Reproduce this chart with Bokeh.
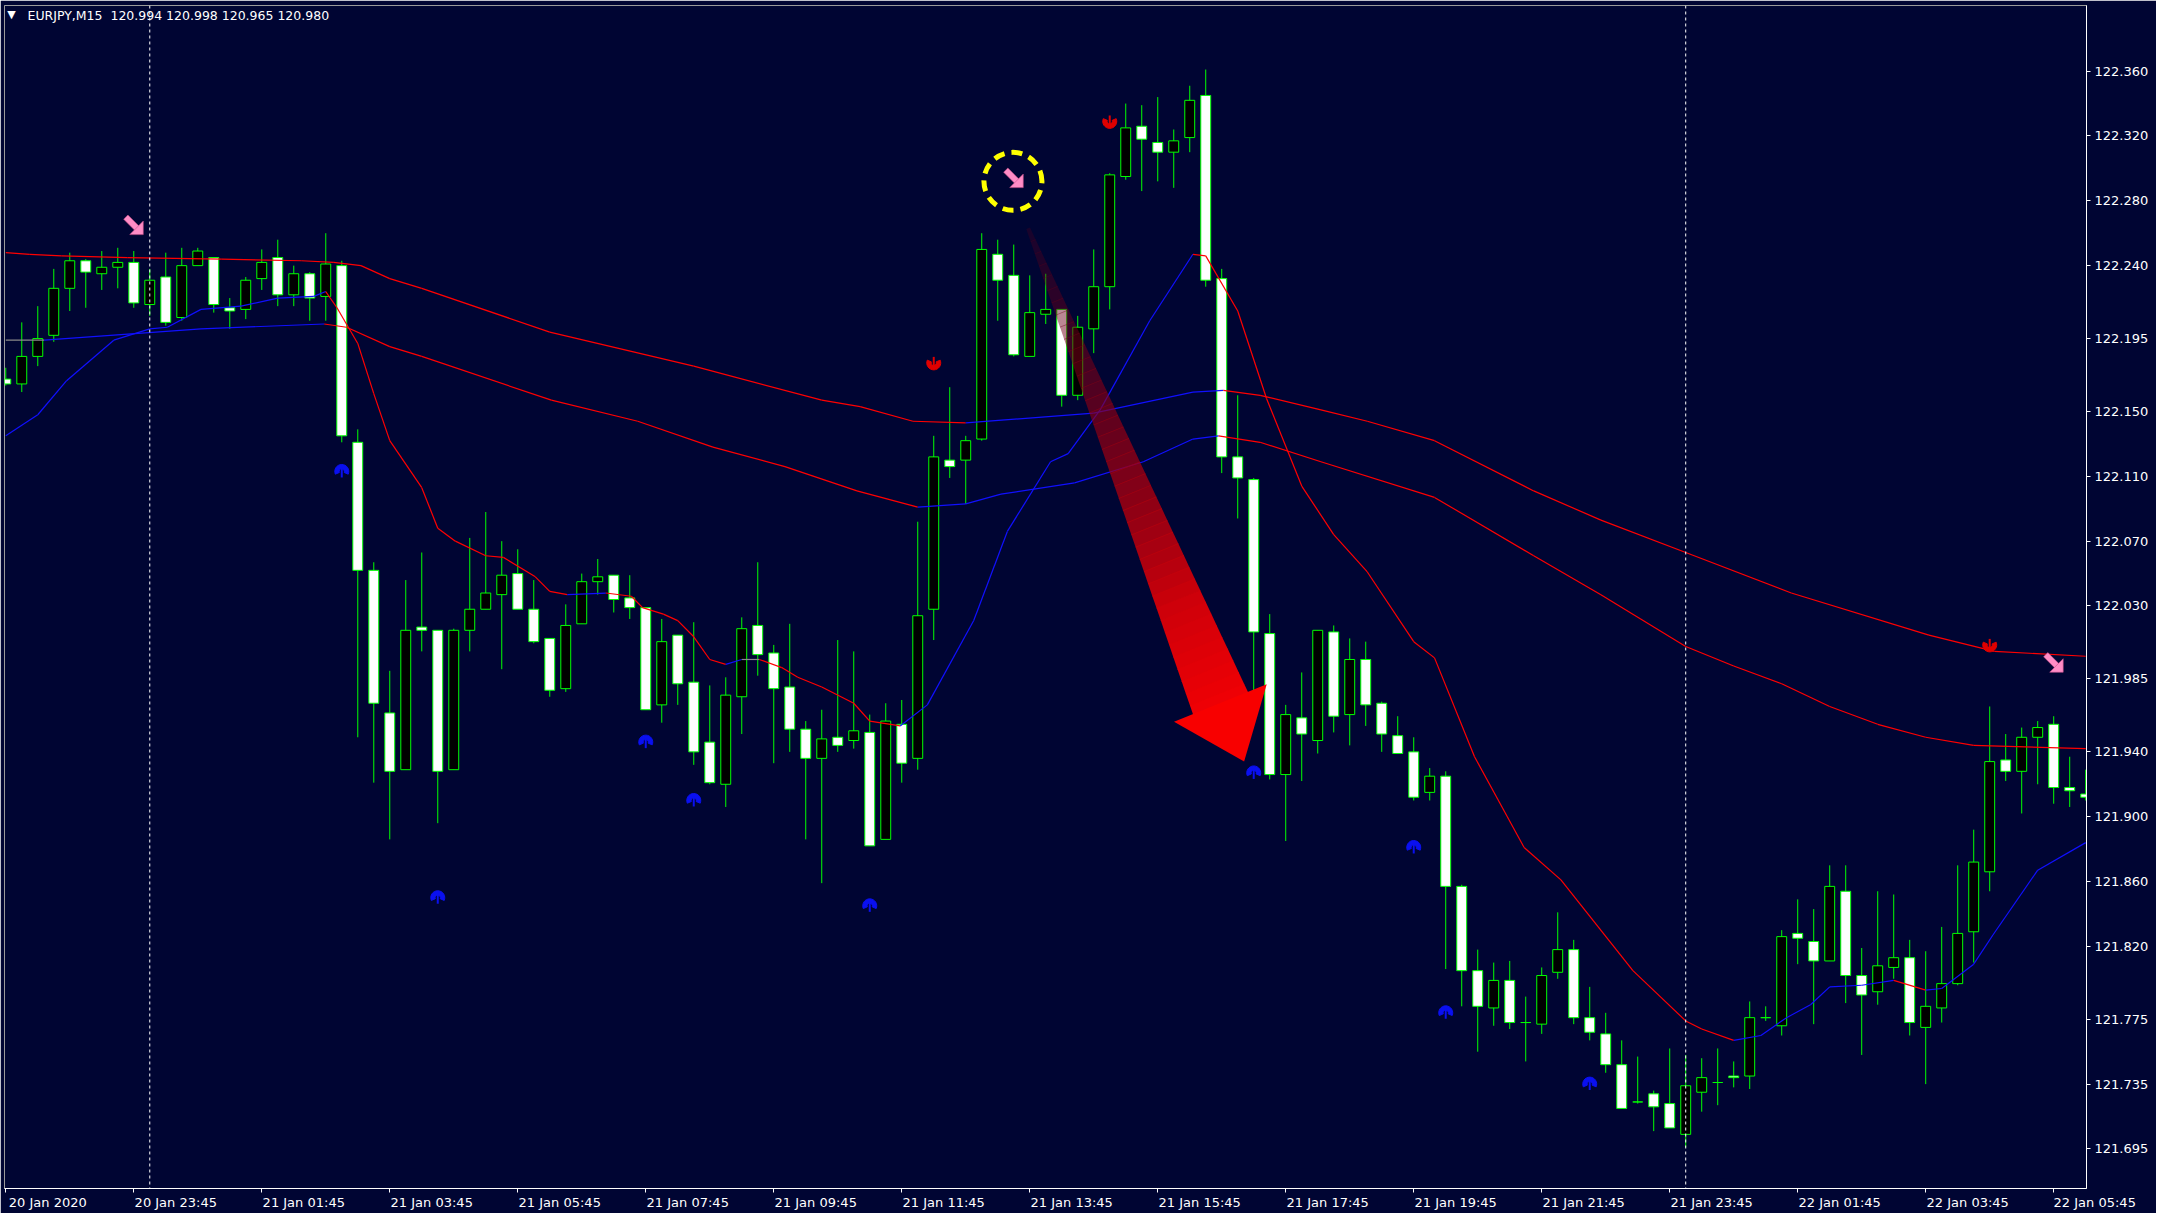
import math
from bokeh.plotting import figure
from bokeh.models import Range1d, LinearAxis, FixedTicker, PrintfTickFormatter, Span, Label, ColumnDataSource
from bokeh.embed import file_html
from bokeh.resources import INLINE
from bokeh.core.properties import value

# ---------------- data (EURJPY M15) ----------------
opens = [122.170,122.167,122.184,122.197,122.226,122.243,122.235,122.239,122.242,122.216,
         122.233,122.208,122.240,122.245,122.214,122.213,122.232,122.245,122.222,122.235,
         122.221,122.240,122.131,122.052,121.964,121.929,122.017,122.015,121.929,122.015,
         122.028,122.037,122.050,122.028,122.010,121.979,122.019,122.045,122.049,122.035,
         122.029,121.969,122.012,121.983,121.946,121.920,121.974,122.018,122.001,121.980,
         121.954,121.936,121.949,121.947,121.952,121.886,121.957,121.936,122.028,122.120,
         122.120,122.133,122.247,122.234,122.184,122.210,122.213,122.160,122.201,122.227,
         122.295,122.326,122.316,122.310,122.319,122.345,122.232,122.122,122.108,122.013,
         121.926,121.961,121.947,122.014,121.963,121.997,121.970,121.950,121.940,121.915,
         121.925,121.857,121.805,121.782,121.799,121.773,121.772,121.804,121.818,121.776,
         121.766,121.747,121.724,121.729,121.723,121.704,121.730,121.736,121.740,121.740,
         121.776,121.771,121.828,121.823,121.811,121.854,121.802,121.792,121.807,121.813,
         121.770,121.782,121.797,121.829,121.866,121.935,121.928,121.949,121.957,121.918,
         121.914]
highs = [122.177,122.205,122.215,122.238,122.248,122.244,122.249,122.251,122.249,122.238,
         122.248,122.251,122.251,122.245,122.220,122.233,122.250,122.256,122.240,122.236,
         122.260,122.243,122.139,122.057,121.990,122.046,122.063,122.015,122.016,122.072,
         122.088,122.070,122.065,122.046,122.010,122.031,122.050,122.059,122.049,122.049,
         122.029,122.022,122.012,122.020,121.981,121.986,122.023,122.057,122.006,122.019,
         121.959,121.966,122.009,122.002,121.963,121.970,121.972,122.082,122.135,122.165,
         122.135,122.260,122.256,122.253,122.234,122.235,122.213,122.209,122.250,122.297,
         122.340,122.339,122.344,122.324,122.351,122.361,122.238,122.160,122.109,122.025,
         121.969,121.989,122.015,122.018,122.010,122.008,121.971,121.962,121.949,121.930,
         121.928,121.858,121.818,121.810,121.811,121.789,121.807,121.841,121.824,121.795,
         121.779,121.762,121.752,121.731,121.757,121.753,121.751,121.757,121.749,121.786,
         121.783,121.830,121.849,121.843,121.870,121.870,121.819,121.854,121.852,121.824,
         121.817,121.832,121.870,121.892,121.968,121.951,121.955,121.959,121.962,121.937,
         121.929]
lows = [122.166,122.162,122.178,122.193,122.212,122.214,122.225,122.226,122.214,122.209,
        122.203,122.206,122.240,122.211,122.201,122.207,122.225,122.215,122.215,122.206,
        122.206,122.131,121.949,121.921,121.886,121.929,122.002,121.896,121.929,122.002,
        122.028,121.991,122.028,122.007,121.974,121.977,122.019,122.037,122.026,122.022,
        121.966,121.958,121.969,121.932,121.920,121.906,121.951,121.987,121.933,121.940,
        121.886,121.859,121.940,121.942,121.882,121.886,121.921,121.929,122.009,122.109,
        122.093,122.132,122.206,122.184,122.184,122.204,122.153,122.157,122.186,122.213,
        122.293,122.286,122.292,122.288,122.310,122.227,122.112,122.084,121.966,121.923,
        121.885,121.922,121.939,121.952,121.944,121.956,121.940,121.939,121.910,121.910,
        121.806,121.783,121.755,121.771,121.769,121.749,121.766,121.800,121.772,121.762,
        121.742,121.720,121.723,121.706,121.708,121.696,121.718,121.722,121.733,121.732,
        121.774,121.765,121.809,121.772,121.811,121.785,121.753,121.784,121.800,121.765,
        121.735,121.773,121.796,121.810,121.854,121.922,121.902,121.920,121.908,121.906,
        121.910]
closes = [122.167,122.184,122.195,122.226,122.243,122.236,122.239,122.242,122.217,122.231,
          122.205,122.240,122.249,122.216,122.212,122.231,122.242,122.222,122.235,122.220,
          122.241,122.135,122.052,121.970,121.928,122.015,122.015,121.928,122.015,122.028,
          122.038,122.049,122.028,122.008,121.978,122.018,122.045,122.048,122.034,122.029,
          121.966,122.008,121.982,121.940,121.921,121.975,122.016,122.000,121.979,121.954,
          121.936,121.948,121.944,121.953,121.882,121.959,121.933,122.024,122.122,122.116,
          122.132,122.250,122.231,122.185,122.211,122.213,122.160,122.202,122.227,122.296,
          122.325,122.318,122.310,122.317,122.342,122.231,122.122,122.109,122.014,121.926,
          121.963,121.951,122.015,121.962,121.997,121.969,121.951,121.939,121.912,121.925,
          121.857,121.805,121.783,121.799,121.773,121.773,121.802,121.818,121.776,121.767,
          121.747,121.720,121.724,121.721,121.708,121.734,121.739,121.736,121.739,121.776,
          121.776,121.826,121.825,121.811,121.857,121.802,121.790,121.808,121.813,121.773,
          121.783,121.797,121.828,121.872,121.934,121.928,121.949,121.955,121.918,121.916,
          121.912]

# slow moving average (upper)
ma_a_idx = [0, 1.5, 3.5, 7.6, 13.5, 18.5, 20.5, 22.2, 24, 26, 34, 43, 51, 53.4, 56.7, 60, 68,
            74.2, 76.1, 78.4, 82.2, 85.1, 89.3, 95.5, 99.7, 105, 111.6, 120.2, 124.3, 130]
ma_a_val = [122.248, 122.247, 122.246, 122.245, 122.244, 122.243, 122.242, 122.240, 122.232,
            122.226, 122.199, 122.178, 122.157, 122.153, 122.144, 122.143, 122.149, 122.162,
            122.163, 122.160, 122.151, 122.144, 122.132, 122.101, 122.083, 122.063, 122.038,
            122.012, 122.002, 121.999]
# slow moving average (lower)
ma_b_idx = [0, 2.4, 12.2, 19.9, 21.3, 24, 26, 34.1, 39.5, 44.2, 48.7, 53.2, 57, 60, 62.2, 66.8,
            71.1, 74.2, 75.8, 78.4, 82.2, 89.3, 95.5, 99.7, 105, 108, 111, 114, 117, 120, 123, 130]
ma_b_val = [122.194, 122.194, 122.201, 122.204, 122.202, 122.190, 122.184, 122.157, 122.144,
            122.128, 122.116, 122.101, 122.091, 122.093, 122.099, 122.106, 122.119, 122.133,
            122.135, 122.131, 122.119, 122.097, 122.061, 122.037, 122.005, 121.993, 121.982,
            121.968, 121.957, 121.949, 121.944, 121.942]
# fast moving average
ma_c_idx = [0, 2, 3.8, 6.75, 9, 10.1, 12.2, 14.7, 17, 19.25, 20, 20.7, 22, 23, 24, 26, 27, 28.1,
            30, 31.1, 33.1, 34, 35.1, 37.5, 39.1, 39.8, 41.1, 42, 43, 44, 45, 46, 47.1, 48.5,
            49.5, 51, 53, 54, 55.9, 57.6, 60.5, 62.6, 65.3, 66.4, 68.4, 71.5, 74.2, 75, 77,
            78.8, 81, 83, 85.1, 88, 89.3, 91.8, 94.9, 97.2, 101.7, 105, 106, 108, 109.7, 111.3,
            112.8, 114, 116, 118, 120, 121, 123, 124.2, 127, 130]
ma_c_val = [122.135, 122.148, 122.169, 122.194, 122.201, 122.202, 122.213, 122.215, 122.220,
            122.221, 122.224, 122.214, 122.192, 122.161, 122.132, 122.103, 122.078, 122.070,
            122.061, 122.060, 122.048, 122.039, 122.037, 122.038, 122.036, 122.029, 122.025,
            122.021, 122.011, 121.997, 121.994, 121.997, 121.997, 121.992, 121.986, 121.980,
            121.970, 121.959, 121.956, 121.969, 122.021, 122.076, 122.119, 122.124, 122.151,
            122.206, 122.247, 122.246, 122.212, 122.158, 122.104, 122.074, 122.051, 122.008,
            121.998, 121.937, 121.881, 121.861, 121.805, 121.774, 121.769, 121.762, 121.765,
            121.776, 121.784, 121.795, 121.796, 121.799, 121.793, 121.794, 121.809, 121.827,
            121.867, 121.884]

up_mark_idx = [21, 27, 40, 43, 54, 78, 88, 90, 99]
up_mark_val = [122.113, 121.850, 121.946, 121.910, 121.845, 121.927, 121.881, 121.779, 121.735]
dn_mark_idx = [58, 69, 124]
dn_mark_val = [122.180, 122.329, 122.006]

sell_sig_idx = [8, 63, 128]
sell_sig_val = [122.265, 122.294, 121.995]
circled_sig = (62.95, 122.292)
big_arrow_from = (63.9, 122.263)
big_arrow_to = (77.4, 121.934)

separators = [9, 105]
time_tick_idx = [0, 8, 16, 24, 32, 40, 48, 56, 64, 72, 80, 88, 96, 104, 112, 120, 128]
time_tick_labels = ["20 Jan 2020", "20 Jan 23:45", "21 Jan 01:45", "21 Jan 03:45", "21 Jan 05:45",
                    "21 Jan 07:45", "21 Jan 09:45", "21 Jan 11:45", "21 Jan 13:45", "21 Jan 15:45",
                    "21 Jan 17:45", "21 Jan 19:45", "21 Jan 21:45", "21 Jan 23:45", "22 Jan 01:45",
                    "22 Jan 03:45", "22 Jan 05:45"]
price_ticks = [122.360, 122.320, 122.280, 122.240, 122.195, 122.150, 122.110, 122.070, 122.030,
               121.985, 121.940, 121.900, 121.860, 121.820, 121.775, 121.735, 121.695]
header_symbol = "EURJPY,M15"
header_ohlc = "120.994 120.998 120.965 120.980"

# ---------------- figure ----------------
BG = "#000533"
FG = "#FFFFFF"
CANDLE = "#00FF00"
W, H = 2156, 1213
MB_L, MB_T, MB_R, MB_B = 4, 5, 70, 25
FRAME_W, FRAME_H = W - MB_L - MB_R, H - MB_T - MB_B
X0, X1 = -0.08, 130.05
Y0, Y1 = 121.6706, 122.4005
ppk = FRAME_W / (X1 - X0)
ppp = FRAME_H / (Y1 - Y0)

p = figure(width=W, height=H, x_range=Range1d(X0, X1), y_range=Range1d(Y0, Y1),
           output_backend="svg", toolbar_location=None,
           x_axis_location=None, y_axis_location=None,
           min_border_left=MB_L, min_border_top=MB_T, min_border_right=MB_R, min_border_bottom=MB_B,
           background_fill_color=BG, border_fill_color=BG, outline_line_color="#9A9A9A")
p.grid.visible = False

FONT = "DejaVu Sans"
FONT_PX = 13
LABEL_OFFSET = 2.625   # time labels start at their tick and run to the right
NBSP_PX = 0.318 * FONT_PX   # width of a no-break space in DejaVu Sans

# axis label positions; a label whose centre would lie past the right edge is pinned
# to the edge and padded on the left so its text still starts at its tick
x_major, x_over = [], {}
for t, lab in zip(time_tick_idx, time_tick_labels):
    c = t + LABEL_OFFSET
    if c > X1 - 0.001:
        shift_px = (c - (X1 - 0.001)) * ppk
        pad = int(round(2 * shift_px / NBSP_PX))
        c = X1 - 0.001
        lab = "\u00a0" * pad + lab
    x_major.append(c)
    x_over[c] = lab

xaxis = LinearAxis(ticker=FixedTicker(ticks=x_major, minor_ticks=time_tick_idx),
                   major_label_overrides=x_over)
xaxis.axis_line_color = FG
xaxis.major_tick_line_color = None
xaxis.major_tick_out = 4
xaxis.major_tick_in = 0
xaxis.minor_tick_line_color = FG
xaxis.minor_tick_out = 4
xaxis.minor_tick_in = 0
xaxis.major_label_standoff = 2
xaxis.major_label_text_color = FG
xaxis.major_label_text_font = FONT
xaxis.major_label_text_font_size = "%dpx" % FONT_PX
p.add_layout(xaxis, "below")

yaxis = LinearAxis(ticker=FixedTicker(ticks=price_ticks, minor_ticks=[]),
                   formatter=PrintfTickFormatter(format="%.3f"))
yaxis.axis_line_color = FG
yaxis.major_tick_line_color = FG
yaxis.major_tick_out = 4
yaxis.major_tick_in = 0
yaxis.minor_tick_line_color = None
yaxis.major_label_standoff = 4
yaxis.major_label_text_color = FG
yaxis.major_label_text_font = FONT
yaxis.major_label_text_font_size = "%dpx" % FONT_PX
p.add_layout(yaxis, "right")

# candles
idx = list(range(len(opens)))
src = ColumnDataSource(dict(
    x=idx, o=opens, h=highs, l=lows, c=closes,
    top=[max(a, b) for a, b in zip(opens, closes)],
    bot=[min(a, b) for a, b in zip(opens, closes)],
    fill=["#000000" if c > o else "#FFFFFF" for o, c in zip(opens, closes)]))
p.segment(x0="x", y0="l", x1="x", y1="h", source=src, line_color=CANDLE, line_width=1)
p.vbar(x="x", top="top", bottom="bot", width=0.62, source=src,
       fill_color="fill", line_color=CANDLE, line_width=1)

# moving averages coloured by direction
def ma_segments(ix, vals):
    x0s, x1s, y0s, y1s, cols = [], [], [], [], []
    for i in range(len(ix) - 1):
        x0s.append(ix[i]); x1s.append(ix[i + 1]); y0s.append(vals[i]); y1s.append(vals[i + 1])
        d = vals[i + 1] - vals[i]
        cols.append("#1010FF" if d > 0.0004 else ("#FF0000" if d < -0.0004 else "#8A8A8A"))
    return ColumnDataSource(dict(x0=x0s, x1=x1s, y0=y0s, y1=y1s, c=cols))

for ix, vals in ((ma_a_idx, ma_a_val), (ma_b_idx, ma_b_val), (ma_c_idx, ma_c_val)):
    p.segment(x0="x0", y0="y0", x1="x1", y1="y1", line_color="c", line_width=1.2,
              source=ma_segments(ix, vals))

# fractal-like markers
p.annular_wedge(x=up_mark_idx, y=up_mark_val, inner_radius=2.6, outer_radius=7,
                inner_radius_units="screen", outer_radius_units="screen",
                start_angle=-0.4, end_angle=math.pi + 0.4, color="#0A10F0")
p.segment(x0=up_mark_idx, x1=up_mark_idx, y0=[v - 6 / ppp for v in up_mark_val],
          y1=[v + 4 / ppp for v in up_mark_val], line_color="#0A10F0", line_width=2)
p.annular_wedge(x=dn_mark_idx, y=dn_mark_val, inner_radius=2.6, outer_radius=7,
                inner_radius_units="screen", outer_radius_units="screen",
                start_angle=math.pi - 0.4, end_angle=2 * math.pi + 0.4, color="#E00000")
p.segment(x0=dn_mark_idx, x1=dn_mark_idx, y0=[v - 4 / ppp for v in dn_mark_val],
          y1=[v + 6 / ppp for v in dn_mark_val], line_color="#E00000", line_width=2)

# day separators
for s in separators:
    p.add_layout(Span(location=s, dimension="height", line_color=FG, line_width=1, line_dash="3 3"))

# helper: pixel offset (screen, y down) -> data coordinates
def off(k, v, dx, dy):
    return k + dx / ppk, v - dy / ppp

# big translucent red arrow
tk, tp = big_arrow_from
hk, hp = big_arrow_to
dx = (hk - tk) * ppk
dy = (tp - hp) * ppp
L = math.hypot(dx, dy)
ux, uy = dx / L, dy / L
nx, ny = uy, -ux

def to_data(a, c):
    return off(tk, tp, a * ux + c * nx, a * uy + c * ny)

SHAFT_END = 516.0
def half_w(a):
    return 2.0 + a * 0.054

xs, ys, cols, alphas = [], [], [], []
N = 40
for i in range(N):
    a0 = SHAFT_END * i / N
    a1 = SHAFT_END * (i + 1) / N + 0.8
    pts = [to_data(a0, -half_w(a0)), to_data(a1, -half_w(a1)), to_data(a1, half_w(a1)), to_data(a0, half_w(a0))]
    xs.append([q[0] for q in pts]); ys.append([q[1] for q in pts])
    t = (i + 0.5) / N
    r = int(80 + 160 * t); b = int(30 - 25 * t)
    cols.append("#%02x00%02x" % (r, b))
    alphas.append(min(1.0, 0.3 + 0.9 * t))
head = [to_data(SHAFT_END - 4, -50), to_data(L, 0), to_data(SHAFT_END - 4, 50)]
xs.append([q[0] for q in head]); ys.append([q[1] for q in head])
cols.append("#F80000"); alphas.append(1.0)
p.patches(xs="xs", ys="ys", fill_color="c", fill_alpha="a", line_color=None,
          source=ColumnDataSource(dict(xs=xs, ys=ys, c=cols, a=alphas)))

# yellow dashed circle
p.arc(x=[circled_sig[0]], y=[circled_sig[1]], radius=29, radius_units="screen",
      start_angle=0, end_angle=2 * math.pi, line_color="#FFFF00", line_width=5, line_dash="11 7")

# pink south-east block arrows (sell signals)
shaft_px = [(-10.1, -5.9), (-5.9, -10.1), (5.6, 1.4), (1.4, 5.6)]
head_px = [(9.5, -4.0), (9.5, 9.5), (-4.0, 9.5)]
pxs, pys = [], []
for k, v in zip(sell_sig_idx, sell_sig_val):
    for shape in (shaft_px, head_px):
        pts = [off(k, v, a, b) for a, b in shape]
        pxs.append([q[0] for q in pts]); pys.append([q[1] for q in pts])
p.patches(xs=pxs, ys=pys, fill_color="#FF8CC6", line_color="#C8508C", line_width=0.6)

# header
p.add_layout(Label(x=off(X0, Y1, 7, 0)[0], y=off(X0, Y1, 0, 9)[1], text="\u25BC", text_color=FG,
                   text_font=FONT, text_font_size="11px", text_align="center", text_baseline="middle"))
p.add_layout(Label(x=off(X0, Y1, 23, 0)[0], y=off(X0, Y1, 0, 10)[1],
                   text=header_symbol + "\u00a0\u00a0" + header_ohlc,
                   text_color=FG, text_font=FONT, text_font_size="12.5px", text_baseline="middle"))

open("out.html", "w").write(file_html(p, INLINE))
